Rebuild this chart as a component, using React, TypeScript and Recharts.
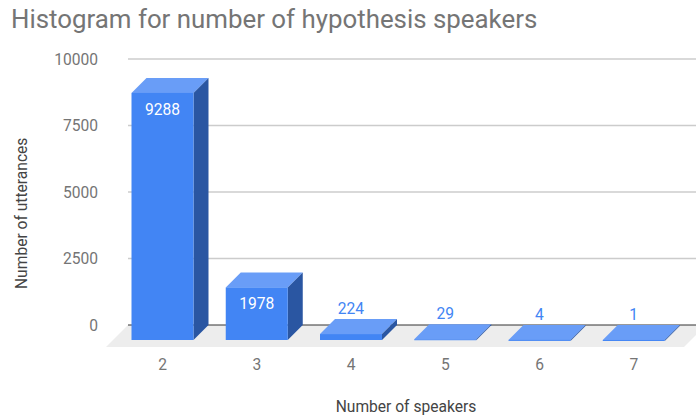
import { Bar, BarChart, CartesianGrid, LabelList, XAxis, YAxis } from "recharts";

const speakers = ["2", "3", "4", "5", "6", "7"];
const utterances = [9288, 1978, 224, 29, 4, 1];
const yTicks = [0, 2500, 5000, 7500, 10000];

const data = speakers.map((name, i) => ({ name, utterances: utterances[i] }));

// depth of the fake 3d effect, the plot area is the back plane
const DEPTH = 15;
const FLOOR = 22;
const font = "Roboto, sans-serif";
const fontSize = 15.6;

function Box3D(props: any) {
  const { x, y, width, height } = props;
  const fx = x - DEPTH;
  const fy = y + DEPTH;
  const h = Math.max(height, 1);
  const top = `${fx},${fy} ${x},${y} ${x + width},${y} ${fx + width},${fy}`;
  const side = `${fx + width},${fy} ${x + width},${y} ${x + width},${y + h} ${fx + width},${fy + h}`;
  return (
    <g>
      <polygon points={top} fill="#699df7" />
      <polygon points={side} fill="#2a56a2" />
      <rect x={fx} y={fy} width={width} height={h} fill="#4285f4" />
    </g>
  );
}

function ValueLabel(props: any) {
  const { x, y, width, height, value } = props;
  const inside = height > 30;
  return (
    <text
      x={x - DEPTH + width / 2}
      y={inside ? y + DEPTH + 17 : y - 10}
      textAnchor="middle"
      dominantBaseline="central"
      fontFamily={font}
      fontSize={fontSize}
      fill={inside ? "#ffffff" : "#4285f4"}
    >
      {value}
    </text>
  );
}

// grid lines, the last one (value 0) also carries the floor
function GridLine(props: any) {
  const { x1, y1, x2, y2, index } = props;
  if (index !== 0 && y1 < 300) {
    return <line x1={x1} y1={y1} x2={x2} y2={y2} stroke="#cccccc" strokeWidth={1.5} />;
  }
  const pts = `${x1},${y1} ${x2 + 10},${y2} ${x2 + 10 - FLOOR},${y2 + FLOOR} ${x1 - FLOOR},${y1 + FLOOR}`;
  return (
    <g>
      <polygon points={pts} fill="#ededed" />
      <line x1={x1} y1={y1} x2={x2} y2={y2} stroke="#333333" strokeWidth={1} />
    </g>
  );
}

export default function App() {
  return (
    <div style={{ position: "absolute", left: 0, top: 0, width: 696, height: 417, background: "#fff" }}>
      <div
        style={{
          position: "absolute",
          left: 11,
          top: 3,
          fontFamily: font,
          fontSize: 25.85,
          lineHeight: "32px",
          color: "#757575",
          whiteSpace: "nowrap",
        }}
      >
        Histogram for number of hypothesis speakers
      </div>
      <BarChart
        width={696}
        height={417}
        data={data}
        margin={{ top: 59, right: 0, bottom: 0, left: 0 }}
      >
        <CartesianGrid vertical={false} horizontal={GridLine} />
        <XAxis
          dataKey="name"
          height={92}
          axisLine={false}
          tickLine={false}
          padding={{ left: 2.5, right: 0 }}
          tickMargin={28}
          dx={-DEPTH}
          tick={{ fill: "#757575", fontSize, fontFamily: font }}
          label={{
            value: "Number of speakers",
            position: "insideBottom",
            dx: -6,
            dy: 0,
            fill: "#444444",
            fontSize,
            fontFamily: font,
          }}
        />
        <YAxis
          width={128}
          domain={[0, 10000]}
          ticks={yTicks}
          axisLine={false}
          tickLine={false}
          tickMargin={24}
          tick={{ fill: "#757575", fontSize, fontFamily: font }}
          label={{
            value: "Number of utterances",
            angle: -90,
            position: "insideLeft",
            dx: 16,
            dy: 97,
            fill: "#444444",
            fontSize,
            fontFamily: font,
          }}
        />
        <Bar dataKey="utterances" barSize={62} shape={Box3D} isAnimationActive={false}>
          <LabelList dataKey="utterances" content={ValueLabel} />
        </Bar>
      </BarChart>
    </div>
  );
}
